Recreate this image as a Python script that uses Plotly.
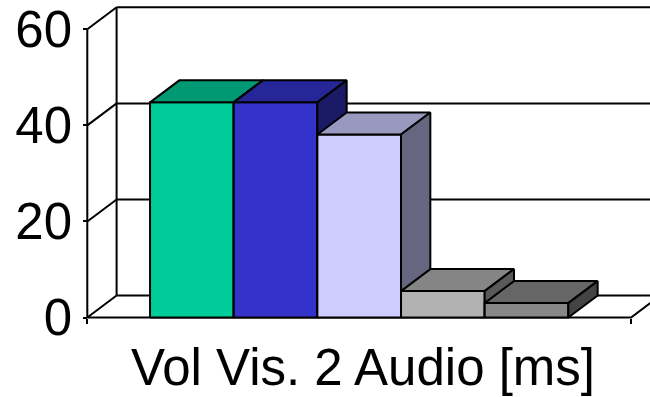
import plotly.graph_objects as go

# Series values (ms) and styling per bar
series_names = ["Serie 1", "Serie 2", "Serie 3", "Serie 4", "Serie 5"]
values = [44.8, 44.8, 38.1, 5.5, 3.0]
front_colors = ["#00CC99", "#3333CC", "#CCCCFF", "#B2B2B2", "#888888"]
top_colors = ["#009973", "#262699", "#9999BF", "#858585", "#666666"]
side_colors = ["#006650", "#1A1A66", "#666680", "#595959", "#444444"]
tick_values = [0, 20, 40, 60]
category_title = "Vol Vis. 2 Audio [ms]"

W, H = 650, 397
PX_X = 83.66          # pixels per bar width
PX_Y = 4.803          # pixels per ms
AXIS_PX = 87.3        # front value axis, pixels from left
BASE_PX = 317.5       # floor front edge, pixels from top
DX = 29.3 / PX_X      # oblique depth offset, x units
DY = 22.0 / PX_Y      # oblique depth offset, y units
GAP = 0.75            # gap before first / after last bar (bar widths)
CAT_END = GAP * 2 + len(values)
YMAX = max(tick_values)

fig = go.Figure()
LINE = dict(color="black", width=2)


def seg(xs, ys):
    fig.add_trace(go.Scatter(x=xs, y=ys, mode="lines", line=LINE,
                             hoverinfo="skip", showlegend=False))


def face(xs, ys, color, name):
    fig.add_trace(go.Scatter(x=xs + [xs[0]], y=ys + [ys[0]], mode="lines",
                             fill="toself", fillcolor=color, line=LINE,
                             name=name, showlegend=False))


# back wall, side wall and floor
far_right = CAT_END + DX + 1
for v in tick_values:
    seg([DX, far_right], [v + DY, v + DY])
    seg([0, DX], [v, v + DY])
seg([DX, DX], [DY, YMAX + DY])
seg([0, 0], [0, YMAX])
seg([0, CAT_END, CAT_END + DX], [0, 0, DY])

# bars: front, top and side faces
for i, v in enumerate(values):
    x0 = GAP + i
    x1 = x0 + 1
    nm = series_names[i]
    face([x0, x1, x1, x0], [0, 0, v, v], front_colors[i], nm)
    face([x0, x0 + DX, x1 + DX, x1], [v, v + DY, v + DY, v], top_colors[i], nm)
    face([x1, x1 + DX, x1 + DX, x1], [0, DY, v + DY, v], side_colors[i], nm)

FONT = "Arial, Liberation Sans, sans-serif"
fig.update_layout(
    width=W, height=H,
    margin=dict(l=0, r=0, t=0, b=0),
    paper_bgcolor="white", plot_bgcolor="white",
    showlegend=False,
    font=dict(family=FONT, color="black"),
    xaxis=dict(
        domain=[0, 1],
        range=[-AXIS_PX / PX_X, (W - AXIS_PX) / PX_X],
        anchor="free", position=1 - BASE_PX / H,
        tickvals=[0, CAT_END], ticks="outside", ticklen=5, tickwidth=2,
        tickcolor="black", showticklabels=False,
        showgrid=False, zeroline=False, showline=False, fixedrange=True,
    ),
    yaxis=dict(
        domain=[0, 1],
        range=[-(H - BASE_PX) / PX_Y, BASE_PX / PX_Y],
        anchor="free", position=AXIS_PX / W,
        tickvals=tick_values, ticks="outside", ticklen=4, tickwidth=2,
        tickcolor="black", tickfont=dict(size=51, family=FONT),
        ticklabelstandoff=1,
        showgrid=False, zeroline=False, showline=False, fixedrange=True,
    ),
    annotations=[dict(
        text=category_title, xref="paper", yref="paper",
        x=362.5 / W, y=1 - 367 / H, xanchor="center", yanchor="middle",
        showarrow=False, font=dict(size=51, family=FONT),
    )],
)

fig.write_html("out.html")
